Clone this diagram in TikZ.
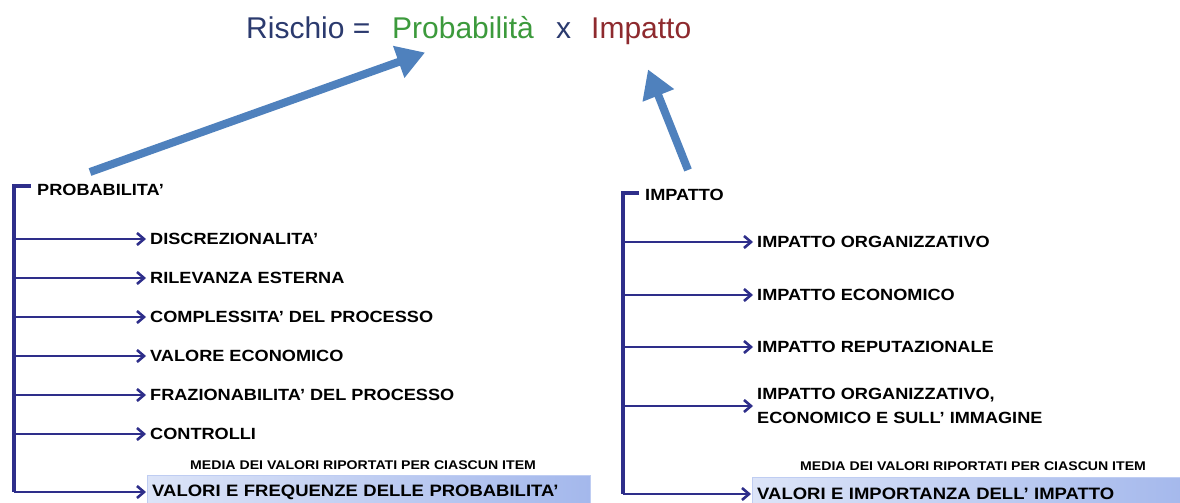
\documentclass[tikz,border=0pt]{standalone}
\usepackage{fontspec}
\setmainfont{Liberation Sans}
\newfontfamily\itemfont{Liberation Sans}[FakeStretch=1.12, Ligatures=TeX]
\usetikzlibrary{arrows.meta,positioning}
\definecolor{navy}{HTML}{2E2E8A}
\definecolor{riskblue}{HTML}{2B3A6E}
\definecolor{probgreen}{HTML}{3C9A3C}
\definecolor{impred}{HTML}{8E2A2E}
\definecolor{officeblue}{HTML}{4F81BD}
\definecolor{boxleft}{HTML}{DCE4F8}
\definecolor{boxright}{HTML}{A4B8EC}
\tikzset{
  item/.style={anchor=west, inner sep=0pt, font=\itemfont\bfseries\fontsize{16.2}{24}\selectfont, align=left},
  head/.style={item},
  note/.style={anchor=west, inner sep=0pt, font=\itemfont\bfseries\fontsize{12.6}{14}\selectfont},
  formula/.style={anchor=base west, inner sep=0pt, font=\fontsize{30}{34}\selectfont},
  branch/.style={-{Straight Barb[length=7pt,width=12pt,line width=2.6pt]}, line width=2.8pt, draw=navy},
  bar/.style={line width=3.4pt, draw=navy},
  bigarrow/.style={-{Triangle[length=28pt,width=32pt]}, line width=8pt, draw=officeblue},
  result/.style={anchor=west, inner xsep=5pt, inner ysep=0pt, minimum height=34pt, align=left, font=\itemfont\bfseries\fontsize{16.5}{19}\selectfont, draw=boxright!70, left color=boxleft, right color=boxright}
}

\begin{document}
\begin{tikzpicture}[x=1pt, y=-1pt]
  \useasboundingbox[fill=white] (0,0) rectangle (1180,503);

  % formula
  \node[formula] (risk) at (246,39) {\textcolor{riskblue}{Rischio =}};
  \node[formula] (prob) at (392,39) {\textcolor{probgreen}{Probabilità}};
  \node[formula] (times) at (556,39) {\textcolor{riskblue}{x}};
  \node[formula] (imp) at (591,39) {\textcolor{impred}{Impatto}};

  % probabilita tree
  \coordinate (ltop) at (14,186);
  \node[head] (phead) at (37,190) {PROBABILITA'};
  \node[item] (p1) at (150,239) {DISCREZIONALITA'};
  \node[item] (p2) at (150,278) {RILEVANZA ESTERNA};
  \node[item] (p3) at (150,317) {COMPLESSITA' DEL PROCESSO};
  \node[item] (p4) at (150,356) {VALORE ECONOMICO};
  \node[item] (p5) at (150,395) {FRAZIONABILITA' DEL PROCESSO};
  \node[item] (p6) at (150,434) {CONTROLLI};
  \node[note] (pnote) at (190,465) {MEDIA DEI VALORI RIPORTATI PER CIASCUN ITEM};
  \node[result, text width=433pt] (pres) at (147,492) {VALORI E FREQUENZE DELLE PROBABILITA'};

  \draw[bar] (phead.west) ++(-6,-4) -| (ltop |- pres.west);
  \foreach \n in {p1,p2,p3,p4,p5,p6}
    \draw[branch] (ltop |- \n.west) -- ([xshift=-4pt]\n.west);
  \draw[branch] (ltop |- pres.west) -- ([xshift=-1pt]pres.west);

  % impatto tree
  \coordinate (rtop) at (623,193);
  \node[head] (ihead) at (645,195) {IMPATTO};
  \node[item] (i1) at (757,242) {IMPATTO ORGANIZZATIVO};
  \node[item] (i2) at (757,295) {IMPATTO ECONOMICO};
  \node[item] (i3) at (757,347) {IMPATTO REPUTAZIONALE};
  \node[item] (i4) at (757,406) {IMPATTO ORGANIZZATIVO,\\ECONOMICO E SULL' IMMAGINE};
  \node[note] (inote) at (800,466) {MEDIA DEI VALORI RIPORTATI PER CIASCUN ITEM};
  \node[result, text width=428pt] (ires) at (752,494) {VALORI E IMPORTANZA DELL' IMPATTO};

  \draw[bar] (ihead.west) ++(-6,-2) -| (rtop |- ires.west);
  \foreach \n in {i1,i2,i3,i4}
    \draw[branch] (rtop |- \n.west) -- ([xshift=-4pt]\n.west);
  \draw[branch] (rtop |- ires.west) -- ([xshift=-1pt]ires.west);

  % links to the formula
  \coordinate (pstart) at (90,172);
  \coordinate (istart) at (688,170);
  \draw[bigarrow] (pstart) -- ([xshift=-38pt,yshift=-13pt]prob.south);
  \draw[bigarrow] (istart) -- ([xshift=57pt,yshift=-24pt]imp.south west);
\end{tikzpicture}
\end{document}
